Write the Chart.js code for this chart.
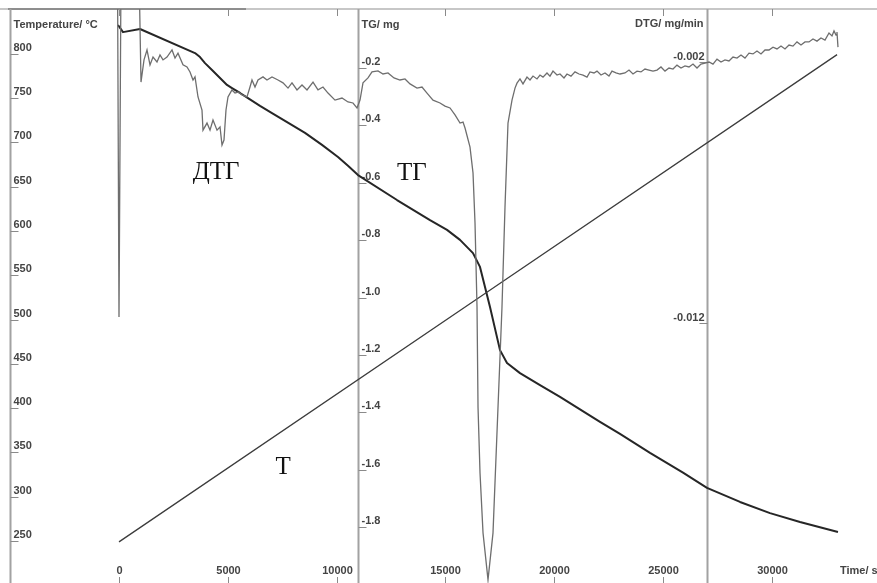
<!DOCTYPE html>
<html>
<head>
<meta charset="utf-8">
<script src="https://cdn.jsdelivr.net/npm/chart.js@4/dist/chart.umd.min.js"></script>
<style>
  html, body { margin: 0; padding: 0; background: #fff; }
  canvas { display: block; }
</style>
</head>
<body>
<canvas id="c" width="877" height="583"></canvas>
<script>
// Tick labels of the three vertical axes and the time axis
const tempTicks = [250, 300, 350, 400, 450, 500, 550, 600, 650, 700, 750, 800];
const tgTicks = [-0.2, -0.4, -0.6, -0.8, -1.0, -1.2, -1.4, -1.6, -1.8];
const dtgTicks = [-0.002, -0.012];
const timeTicks = [0, 5000, 10000, 15000, 20000, 25000, 30000];

// Furnace temperature, °C
const tempTime = [0, 16500, 33000];
const tempValue = [249, 524, 799];

// TG: sample mass change, mg
const tgTime = [-46, 184, 965, 3493, 3722, 3952, 4274, 4734, 4963, 5193, 5561, 5928, 6480, 7031, 7858, 8548,
  9329, 10064, 10524, 10983, 12776, 14292, 15074, 15671, 16268, 16590, 17050, 17509, 17831, 18428, 19348,
  20267, 22105, 23024, 24403, 25920, 27022, 28539, 29918, 31296, 33042];
const tgMass = [-0.050, -0.075, -0.064, -0.148, -0.162, -0.183, -0.207, -0.242, -0.259, -0.270, -0.287, -0.305,
  -0.332, -0.357, -0.395, -0.426, -0.468, -0.510, -0.541, -0.573, -0.660, -0.730, -0.764, -0.799, -0.845,
  -0.893, -1.033, -1.183, -1.228, -1.263, -1.305, -1.346, -1.433, -1.475, -1.541, -1.610, -1.663, -1.712,
  -1.751, -1.782, -1.817];

// DTG: rate of mass change, mg/min
const dtgTime = [-69, 0, 92, 919, 1011, 1149, 1287, 1425, 1563, 1746, 1884, 2022, 2206, 2436, 2574, 2711, 2941,
  3125, 3263, 3401, 3493, 3631, 3814, 3860, 4044, 4182, 4320, 4504, 4642, 4734, 4825, 4917, 5009, 5193, 5331,
  5469, 5653, 5882, 6020, 6112, 6250, 6388, 6618, 6801, 7031, 7307, 7537, 7767, 7950, 8180, 8410, 8640, 8916,
  9145, 9375, 9605, 9926, 10248, 10524, 10754, 10938, 11076, 11213, 11443, 11627, 11903, 12133, 12362, 12638,
  12914, 13144, 13374, 13695, 13925, 14155, 14431, 14752, 14982, 15212, 15442, 15672, 15810, 15902, 16131,
  16269, 16361, 16453, 16499, 16591, 16729, 16958, 17188, 17418, 17601, 17739, 17877, 18061, 18199,
  18290, 18428, 18566, 18750, 18888, 19026, 19210, 19347, 19485, 19669, 19807, 19945, 20129, 20267, 20450,
  20588, 20772, 20956, 21140, 21324, 21507, 21645, 21829, 21967, 22151, 22335, 22518, 22656, 22840, 23024,
  23254, 23438, 23621, 23805, 23989, 24173, 24357, 24541, 24724, 24908, 25092, 25276, 25460, 25643, 25827,
  26011, 26195, 26379, 26563, 26746, 26930, 27114, 27298, 27482, 27666, 27849, 28033, 28217, 28401, 28585,
  28768, 28952, 29136, 29320, 29504, 29688, 29871, 30055, 30239, 30423, 30607, 30791, 30974, 31158, 31342,
  31526, 31710, 31893, 32077, 32261, 32445, 32629, 32767, 32859, 32951, 32996, 33042];
const dtgRate = [0.0015, -0.01177, 0.0015, 0.0015, -0.00277, -0.00192, -0.00154, -0.00211, -0.00181, -0.00200,
  -0.00173, -0.00192, -0.00181, -0.00154, -0.00185, -0.00166, -0.00211, -0.00219, -0.00238, -0.00269, -0.00257,
  -0.00334, -0.00384, -0.00461, -0.00434, -0.00461, -0.00422, -0.00461, -0.00449, -0.00518, -0.00499, -0.00384,
  -0.00334, -0.00307, -0.00319, -0.00315, -0.00326, -0.00334, -0.00296, -0.00269, -0.00296, -0.00269, -0.00257,
  -0.00269, -0.00257, -0.00269, -0.00280, -0.00300, -0.00280, -0.00307, -0.00288, -0.00307, -0.00277, -0.00307,
  -0.00296, -0.00319, -0.00346, -0.00338, -0.00353, -0.00357, -0.00376, -0.00346, -0.00280, -0.00261, -0.00238,
  -0.00234, -0.00246, -0.00242, -0.00261, -0.00269, -0.00265, -0.00284, -0.00300, -0.00296, -0.00319, -0.00346,
  -0.00357, -0.00369, -0.00376, -0.00403, -0.00434, -0.00430, -0.00453, -0.00526, -0.00625, -0.00817, -0.01139,
  -0.01522, -0.01775, -0.02004, -0.02184, -0.02004, -0.01522, -0.01139, -0.00756, -0.00434, -0.00346, -0.00300,
  -0.00281, -0.00265, -0.00284, -0.00258, -0.00269, -0.00254, -0.00265, -0.00250, -0.00258, -0.00242, -0.00254,
  -0.00235, -0.00250, -0.00246, -0.00261, -0.00246, -0.00254, -0.00238, -0.00246, -0.00250, -0.00258, -0.00238,
  -0.00242, -0.00235, -0.00250, -0.00242, -0.00254, -0.00235, -0.00242, -0.00246, -0.00242, -0.00231, -0.00246,
  -0.00235, -0.00238, -0.00227, -0.00231, -0.00235, -0.00231, -0.00219, -0.00235, -0.00223, -0.00227, -0.00212,
  -0.00223, -0.00215, -0.00219, -0.00208, -0.00223, -0.00208, -0.00204, -0.00200, -0.00208, -0.00189, -0.00200,
  -0.00192, -0.00196, -0.00181, -0.00185, -0.00173, -0.00185, -0.00166, -0.00169, -0.00158, -0.00169, -0.00154,
  -0.00154, -0.00143, -0.00150, -0.00139, -0.00150, -0.00135, -0.00139, -0.00123, -0.00135, -0.00123, -0.00123,
  -0.00112, -0.00120, -0.00108, -0.00116, -0.00089, -0.00100, -0.00081, -0.00097, -0.00085, -0.00143];

// Curve captions, placed at (time, temperature)
const captions = [
  { text: 'ДТГ', time: 4460, temp: 666 },
  { text: 'ТГ', time: 13460, temp: 665 },
  { text: 'Т', time: 7540, temp: 333 }
];

// Where each vertical axis stands on the time scale
const TEMP_AXIS_AT = -5000;
const TG_AXIS_AT = 11000;
const DTG_AXIS_AT = 27000;

const zip = (xs, ys) => xs.map((x, i) => ({ x, y: ys[i] }));

const AXIS_GRAY = '#a2a2a2';
const LABEL_FONT = 'bold 11px "Liberation Sans", Arial, sans-serif';
const LABEL_COLOR = '#444';

const thermoAxes = {
  id: 'thermoAxes',
  beforeDatasetsDraw(chart) {
    const { ctx, chartArea: a, scales } = chart;
    const sx = scales.x, sT = scales.yT, sTG = scales.yTG, sD = scales.yDTG;
    const seg = (x1, y1, x2, y2) => { ctx.beginPath(); ctx.moveTo(x1, y1); ctx.lineTo(x2, y2); ctx.stroke(); };
    ctx.save();

    // top frame line
    ctx.strokeStyle = '#b4b4b4'; ctx.lineWidth = 1.5;
    seg(0, a.top, a.right, a.top);
    ctx.strokeStyle = '#555'; ctx.lineWidth = 1;
    seg(8, a.top, 246, a.top);

    // vertical axis lines
    const xT = Math.round(sx.getPixelForValue(TEMP_AXIS_AT)) + 0.5;
    const xTG = Math.round(sx.getPixelForValue(TG_AXIS_AT)) + 0.5;
    const xD = Math.round(sx.getPixelForValue(DTG_AXIS_AT)) + 0.5;
    ctx.strokeStyle = AXIS_GRAY; ctx.lineWidth = 2;
    [xT, xTG, xD].forEach(px => seg(px, a.top, px, a.bottom));

    ctx.font = LABEL_FONT; ctx.fillStyle = LABEL_COLOR;
    ctx.strokeStyle = '#8a8a8a'; ctx.lineWidth = 1;
    ctx.textBaseline = 'middle';

    // temperature axis
    ctx.textAlign = 'left';
    tempTicks.forEach(v => {
      const py = Math.round(sT.getPixelForValue(v)) + 0.5;
      seg(xT, py, xT + 8, py);
      ctx.fillText(String(v), xT + 3, py - 7);
    });
    ctx.fillText('Temperature/ °C', xT + 3, a.top + 16);

    // TG axis
    tgTicks.forEach(v => {
      const py = Math.round(sTG.getPixelForValue(v)) + 0.5;
      seg(xTG, py, xTG + 8, py);
      ctx.fillText(v.toFixed(1), xTG + 3, py - 7);
    });
    ctx.fillText('TG/ mg', xTG + 3, a.top + 16);

    // DTG axis
    ctx.textAlign = 'right';
    dtgTicks.forEach(v => {
      const py = Math.round(sD.getPixelForValue(v)) + 0.5;
      seg(xD - 8, py, xD, py);
      ctx.fillText(v.toFixed(3), xD - 3, py - 6);
    });
    ctx.fillText('DTG/ mg/min', xD - 4, a.top + 15);

    // time axis
    ctx.textAlign = 'center';
    timeTicks.forEach(v => {
      const px = Math.round(sx.getPixelForValue(v)) + 0.5;
      seg(px, a.bottom - 6, px, a.bottom);
      seg(px, a.top, px, a.top + 7);
      ctx.fillText(String(v), px, a.bottom - 12);
    });
    ctx.textAlign = 'left';
    ctx.fillText('Time/ s', 840, a.bottom - 12);
    ctx.restore();
  },
  afterDatasetsDraw(chart) {
    const { ctx, scales } = chart;
    ctx.save();
    ctx.font = '25px "Liberation Serif", "Times New Roman", serif';
    ctx.fillStyle = '#111';
    ctx.textAlign = 'center';
    ctx.textBaseline = 'middle';
    captions.forEach(c => {
      ctx.fillText(c.text, scales.x.getPixelForValue(c.time), scales.yT.getPixelForValue(c.temp));
    });
    ctx.restore();
  }
};

new Chart(document.getElementById('c'), {
  type: 'line',
  data: {
    datasets: [
      { label: 'DTG', data: zip(dtgTime, dtgRate), yAxisID: 'yDTG',
        borderColor: '#6e6e6e', borderWidth: 1.3 },
      { label: 'T', data: zip(tempTime, tempValue), yAxisID: 'yT',
        borderColor: '#3c3c3c', borderWidth: 1.3 },
      { label: 'TG', data: zip(tgTime, tgMass), yAxisID: 'yTG',
        borderColor: '#262626', borderWidth: 2, borderJoinStyle: 'round' }
    ]
  },
  options: {
    responsive: false,
    animation: false,
    layout: { padding: { top: 9, left: 0, right: 0, bottom: 0 } },
    elements: { point: { radius: 0 }, line: { tension: 0, fill: false } },
    plugins: { legend: { display: false }, tooltip: { enabled: false } },
    scales: {
      x: { type: 'linear', min: -5469, max: 34835, display: false },
      yT: { type: 'linear', min: 202.6, max: 850.5, display: false },
      yTG: { type: 'linear', min: -1.9944, max: 0.00557, display: false },
      yDTG: { type: 'linear', min: -0.021962, max: 0.0000307, display: false }
    }
  },
  plugins: [thermoAxes]
});
</script>
</body>
</html>
